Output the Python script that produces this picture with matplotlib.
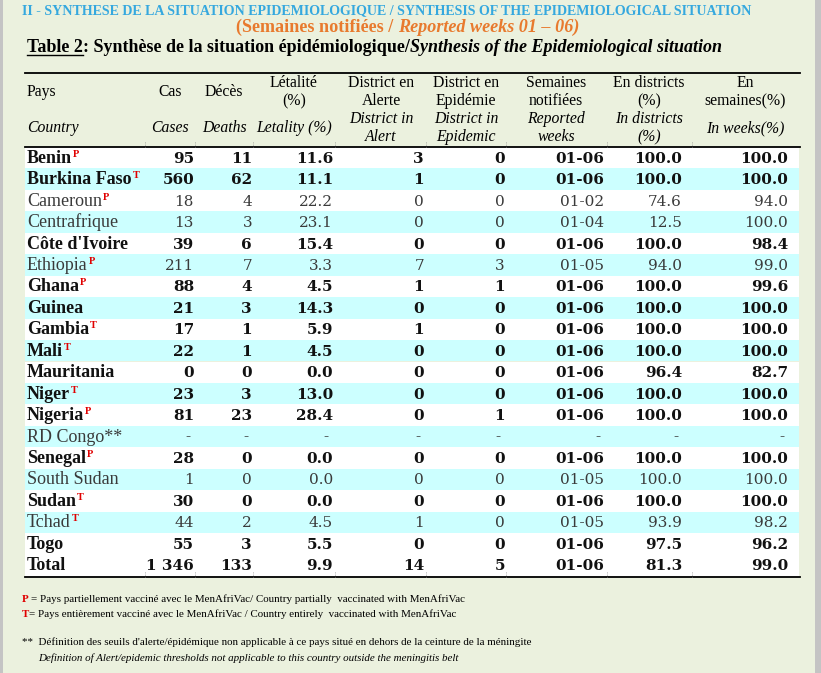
import matplotlib
matplotlib.use("Agg")
import matplotlib.pyplot as plt
from matplotlib.patches import Rectangle

plt.rcParams['font.family'] = ['Liberation Serif', 'DejaVu Serif']

countries = ["Benin", "Burkina Faso", "Cameroun", "Centrafrique", "Côte d'Ivoire",
             "Ethiopia", "Ghana", "Guinea", "Gambia", "Mali", "Mauritania", "Niger",
             "Nigeria", "RD Congo**", "Senegal", "South Sudan", "Sudan", "Tchad",
             "Togo", "Total"]
marks = ["P", "T", "P", "", "", "P", "P", "", "T", "T", "", "T", "P", "", "P", "",
         "T", "T", "", ""]
bold_rows = [1, 1, 0, 0, 1, 0, 1, 1, 1, 1, 1, 1, 1, 0, 1, 0, 1, 0, 1, 1]
cases = ["95", "560", "18", "13", "39", "211", "88", "21", "17", "22", "0", "23",
         "81", "-", "28", "1", "30", "44", "55", "1 346"]
deaths = ["11", "62", "4", "3", "6", "7", "4", "3", "1", "1", "0", "3", "23", "-",
          "0", "0", "0", "2", "3", "133"]
letality = ["11.6", "11.1", "22.2", "23.1", "15.4", "3.3", "4.5", "14.3", "5.9",
            "4.5", "0.0", "13.0", "28.4", "-", "0.0", "0.0", "0.0", "4.5", "5.5", "9.9"]
alert = ["3", "1", "0", "0", "0", "7", "1", "0", "1", "0", "0", "0", "0", "-", "0",
         "0", "0", "1", "0", "14"]
epidemic = ["0", "0", "0", "0", "0", "3", "1", "0", "0", "0", "0", "0", "1", "-",
            "0", "0", "0", "0", "0", "5"]
weeks = ["01-06", "01-06", "01-02", "01-04", "01-06", "01-05", "01-06", "01-06",
         "01-06", "01-06", "01-06", "01-06", "01-06", "-", "01-06", "01-05", "01-06",
         "01-05", "01-06", "01-06"]
in_districts = ["100.0", "100.0", "74.6", "12.5", "100.0", "94.0", "100.0", "100.0",
                "100.0", "100.0", "96.4", "100.0", "100.0", "-", "100.0", "100.0",
                "100.0", "93.9", "97.5", "81.3"]
in_weeks = ["100.0", "100.0", "94.0", "100.0", "98.4", "99.0", "99.6", "100.0",
            "100.0", "100.0", "82.7", "100.0", "100.0", "-", "100.0", "100.0",
            "100.0", "98.2", "96.2", "99.0"]

header_fr = [["Cas"], ["Décès"], ["Létalité", "(%)"], ["District en", "Alerte"],
             ["District en", "Epidémie"], ["Semaines", "notifiées"],
             ["En districts", "(%)"], ["En", "semaines(%)"]]
header_en = [["Cases"], ["Deaths"], ["Letality (%)"], ["District in", "Alert"],
             ["District in", "Epidemic"], ["Reported", "weeks"],
             ["In districts", "(%)"], ["In weeks(%)"]]

BG = '#EBF1DE'
CYAN = '#CCFFFF'
BLUE = '#35A8DE'
ORANGE = '#E87A2E'
RED = '#E00000'

fig = plt.figure(figsize=(8.21, 6.73), dpi=100)
fig.patch.set_facecolor(BG)
ax = fig.add_axes([0, 0, 1, 1])
ax.set_xlim(0, 821)
ax.set_ylim(673, 0)
ax.axis('off')
r = fig.canvas.get_renderer()

ax.add_patch(Rectangle((0, 0), 3, 673, color='#C4C4C4', lw=0))
ax.add_patch(Rectangle((815, 0), 6, 673, color='#C4C4C4', lw=0))


def width(t):
    return t.get_window_extent(r).width


def fit(s, target, **kw):
    t = ax.text(0, 0, s, fontsize=10, **kw)
    w = width(t)
    t.remove()
    return 10 * target / w


def runs(x, y, parts, size, gaps=None):
    out = []
    for i, (s, kw) in enumerate(parts):
        t = ax.text(x, y, s, fontsize=size, va='baseline', ha='left', **kw)
        out.append((x, t))
        x += width(t) + (gaps[i] if gaps else 0)
    return out


# titles
s1 = "II - SYNTHESE DE LA SITUATION EPIDEMIOLOGIQUE / SYNTHESIS OF THE EPIDEMIOLOGICAL SITUATION"
ax.text(22, 14, s1, fontsize=fit(s1, 730, fontweight='bold'), fontweight='bold',
        color=BLUE, va='baseline', ha='left')

p1, p2 = "(Semaines notifiées /", "Reported weeks 01 – 06)"
sz = fit(p1 + " " + p2, 350, fontweight='bold')
tmp = ax.text(0, 0, p1 + " " + p2, fontsize=sz, fontweight='bold')
wtot = width(tmp)
tmp.remove()
runs(411 - wtot / 2, 32, [(p1, dict(fontweight='bold', color=ORANGE)),
                          (p2, dict(fontweight='bold', style='italic', color=ORANGE))],
     sz, gaps=[sz * 0.25 * 100 / 72, 0])

t2 = "Table 2: Synthèse de la situation épidémiologique/Synthesis of the Epidemiological situation"
sz = fit(t2, 705, fontweight='bold')
res = runs(27, 52, [("Table 2", dict(fontweight='bold')),
                    (": Synthèse de la situation épidémiologique/", dict(fontweight='bold')),
                    ("Synthesis of the Epidemiological situation",
                     dict(fontweight='bold', style='italic'))], sz)
x0, tt = res[0]
ax.plot([x0, x0 + width(tt)], [54.5, 54.5], color='black', lw=1)

# table frame
left, right = 25, 799
top_line, head_line = 73, 146.5
row_h = 21.45
n = len(countries)
for i in range(n):
    y0 = 147 + i * row_h
    c = CYAN if (i % 2 == 1 and countries[i] != "Total") else 'white'
    ax.add_patch(Rectangle((left, y0), right - left, row_h, color=c, lw=0))
bottom_line = 147 + n * row_h + 1
ax.plot([left, right + 1], [top_line, top_line], color='black', lw=1.3)
ax.plot([left, right + 1], [head_line, head_line], color='black', lw=1.3)
ax.plot([left, right + 1], [bottom_line, bottom_line], color='black', lw=1.3)

seps = [145, 195, 253, 335, 426, 506, 607, 692]
for sx in seps:
    ax.plot([sx, sx], [head_line - 5, head_line], color='#888888', lw=0.6, ls=':')
    ax.plot([sx, sx], [bottom_line - 5, bottom_line], color='#888888', lw=0.6, ls=':')

# header
hsize = 11.3
ax.text(27, 92, "Pays", fontsize=hsize, va='center', ha='left')
ax.text(27, 128, "Country", fontsize=hsize, style='italic', va='center', ha='left')
centers = [170, 224, 294, 381, 466, 556, 649, 745]
for cx, fr, en in zip(centers, header_fr, header_en):
    fy = [92] if len(fr) == 1 else [83, 101]
    ey = [128] if len(en) == 1 else [119, 137]
    for s, yy in zip(fr, fy):
        ax.text(cx, yy, s, fontsize=hsize, va='center', ha='center')
    for s, yy in zip(en, ey):
        ax.text(cx, yy, s, fontsize=hsize, style='italic', va='center', ha='center')

# body
dsize = 13
nsize = 11
num_font = ['DejaVu Serif']
col_right = [194, 252, 333, 424, 505, 604, 682, 788]
columns = [cases, deaths, letality, alert, epidemic, weeks, in_districts, in_weeks]
for i in range(n):
    yc = 147 + i * row_h + row_h / 2 + 5
    fw = 'bold' if bold_rows[i] else 'normal'
    col = '#111111' if bold_rows[i] else '#3a3a3a'
    t = ax.text(27, yc, countries[i], fontsize=dsize, fontweight=fw, color=col,
                va='baseline', ha='left')
    if marks[i]:
        ax.text(27 + width(t) + 1, yc - 6, marks[i], fontsize=7.5, fontweight='bold',
                color=RED, va='baseline', ha='left')
    for xr, vals in zip(col_right, columns):
        v = vals[i]
        xx = xr - 4 if v == "-" else xr
        ax.text(xx, yc, v, fontsize=nsize, fontweight=fw, color=col,
                family=num_font, va='baseline', ha='right')

# footnotes
fs = fit("P = Pays partiellement vacciné avec le MenAfriVac/ Country partially  vaccinated with MenAfriVac", 443)
runs(22, 602, [("P", dict(color=RED, fontweight='bold')),
               ("= Pays partiellement vacciné avec le MenAfriVac/ Country partially  vaccinated with MenAfriVac",
                dict())], fs, gaps=[fs * 0.25 * 100 / 72, 0])
runs(22, 617, [("T", dict(color=RED, fontweight='bold')),
               ("= Pays entièrement vacciné avec le MenAfriVac / Country entirely  vaccinated with MenAfriVac",
                dict())], fs)
ax.text(22, 645, "**  Définition des seuils d'alerte/épidémique non applicable à ce pays situé en dehors de la ceinture de la méningite",
        fontsize=fs, va='baseline', ha='left')
ax.text(38, 661, "Definition of Alert/epidemic thresholds not applicable to this country outside the meningitis belt",
        fontsize=fs, style='italic', va='baseline', ha='left')

fig.savefig("out.png", dpi=100, facecolor=BG)
